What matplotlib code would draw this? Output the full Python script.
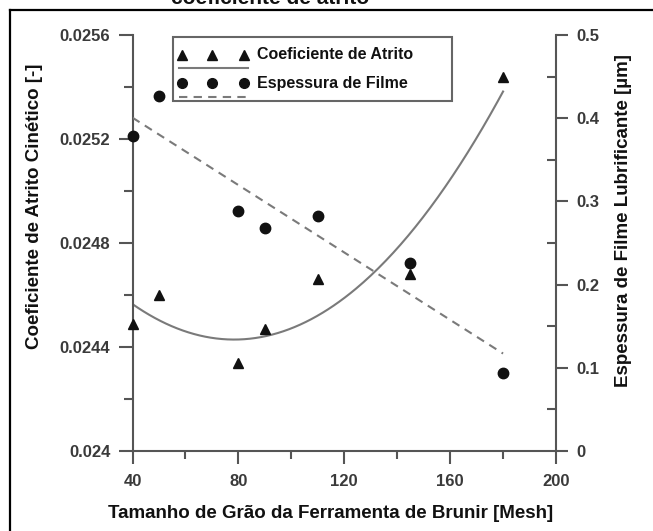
import numpy as np
import matplotlib
matplotlib.use("Agg")
import matplotlib.pyplot as plt
from matplotlib.ticker import MultipleLocator, FuncFormatter
from matplotlib.lines import Line2D
from matplotlib.patches import Rectangle

# ---- data ------------------------------------------------------------------
mesh = [40, 50, 80, 90, 110, 145, 180]
atrito = [0.02449, 0.02460, 0.02434, 0.02447, 0.02466, 0.02468, 0.02544]
filme = [0.379, 0.427, 0.288, 0.268, 0.282, 0.226, 0.094]

lbl_atrito = "Coeficiente de Atrito"
lbl_filme = "Espessura de Filme"
xlabel = "Tamanho de Grão da Ferramenta de Brunir [Mesh]"
ylabel_l = "Coeficiente de Atrito Cinético [-]"
ylabel_r = "Espessura de Filme Lubrificante [µm]"
title = "coeficiente de atrito"

# ---- style ------------------------------------------------------------------
AXIS = "#555555"
TICKLBL = "#3a3a3a"
FIT = "#7a7a7a"
W, H = 653, 531

plt.rcParams.update({
    "font.family": ["Liberation Sans", "DejaVu Sans"],
    "font.weight": "bold",
})

fig = plt.figure(figsize=(W / 100, H / 100), dpi=100)
ax = fig.add_axes([132.5 / W, 80 / H, 423.5 / W, 416 / H])
ax2 = ax.twinx()

# fitted curves (quadratic for friction, linear for film)
xs = np.linspace(min(mesh), max(mesh), 200)
ax.plot(xs, np.polyval(np.polyfit(mesh, atrito, 2), xs), color=FIT, lw=1.5, zorder=2)
ax2.plot(xs, np.polyval(np.polyfit(mesh, filme, 1), xs), color=FIT, lw=1.5,
         ls=(0, (4, 3)), zorder=2)

ax.plot(mesh, atrito, ls="none", marker="^", ms=7.5, color="#111111",
        clip_on=False, zorder=4)
ax2.plot(mesh, filme, ls="none", marker="o", ms=7.5, color="#111111",
         clip_on=False, zorder=4)

# ---- axes -------------------------------------------------------------------
ax.set_xlim(40, 200)
ax.set_ylim(0.024, 0.0256)
ax2.set_ylim(0, 0.5)
ax.xaxis.set_major_locator(MultipleLocator(40))
ax.xaxis.set_minor_locator(MultipleLocator(20))
ax.yaxis.set_major_locator(MultipleLocator(0.0004))
ax.yaxis.set_minor_locator(MultipleLocator(0.0002))
ax2.yaxis.set_major_locator(MultipleLocator(0.1))
ax2.yaxis.set_minor_locator(MultipleLocator(0.05))
fmt = FuncFormatter(lambda v, _: f"{v:g}")
ax.yaxis.set_major_formatter(fmt)
ax2.yaxis.set_major_formatter(fmt)

for s in ("top", "right"):
    ax.spines[s].set_visible(False)
for s in ("top", "left", "bottom"):
    ax2.spines[s].set_visible(False)
for s in ("left", "bottom"):
    ax.spines[s].set_color(AXIS)
    ax.spines[s].set_linewidth(1.5)
ax2.spines["right"].set_color(AXIS)
ax2.spines["right"].set_linewidth(1.5)

common = dict(width=1.5, color=AXIS, labelsize=12, labelcolor=TICKLBL)
ax.tick_params(axis="x", which="major", direction="out", length=9.5, pad=7, **common)
ax.tick_params(axis="x", which="minor", direction="out", length=6, width=1.5, color=AXIS)
ax.tick_params(axis="y", which="major", direction="out", length=10, pad=6, **common)
ax.tick_params(axis="y", which="minor", direction="out", length=6.5, width=1.5, color=AXIS)
ax2.tick_params(axis="y", which="major", direction="out", length=8.5, pad=6, **common)
ax2.tick_params(axis="y", which="minor", direction="in", length=6.5, width=1.5, color=AXIS)

# ---- labels -----------------------------------------------------------------
fig.text(331 / W, 1 - 513 / H, xlabel, ha="center", va="center", fontsize=13.5,
         weight="bold", color="#111111")
fig.text(35 / W, 1 - 206 / H, ylabel_l, ha="center", va="center", rotation=90,
         fontsize=13.5, weight="bold", color="#111111")
fig.text(624 / W, 1 - 221 / H, ylabel_r, ha="center", va="center", rotation=90,
         fontsize=13.5, weight="bold", color="#111111")
fig.text(270 / W, 1 - 4 / H, title, ha="center", va="baseline", fontsize=15,
         weight="bold", color="#111111")

# ---- Origin-style legend (markers above line) ------------------------------
tr = ax2.transAxes
ax2.add_patch(Rectangle((0.0956, 0.841), 0.658, 0.154, transform=tr,
              facecolor="white", edgecolor="#666666", lw=1.5, clip_on=False, zorder=5))
lx = [0.117, 0.188, 0.263]
ax2.plot(lx, [0.952] * 3, transform=tr, ls="none", marker="^", ms=6.5,
         color="#111111", clip_on=False, zorder=6)
ax2.plot([0.110, 0.273], [0.921] * 2, transform=tr, color=FIT, lw=1.5,
         clip_on=False, zorder=6)
ax2.plot(lx, [0.884] * 3, transform=tr, ls="none", marker="o", ms=7,
         color="#111111", clip_on=False, zorder=6)
ax2.plot([0.110, 0.273], [0.852] * 2, transform=tr, color=FIT, lw=1.5,
         ls=(0, (4, 3)), clip_on=False, zorder=6)
ax2.text(0.294, 0.952, lbl_atrito, transform=tr, va="center", fontsize=11.5,
         weight="bold", color="#111111", zorder=7)
ax2.text(0.294, 0.884, lbl_filme, transform=tr, va="center", fontsize=11.5,
         weight="bold", color="#111111", zorder=7)

# ---- outer frame (left and top edges only visible) --------------------------
fig.add_artist(Line2D([10 / W, 10 / W], [0, 1 - 10 / H], transform=fig.transFigure,
                      color="black", lw=1.6))
fig.add_artist(Line2D([10 / W, 1], [1 - 10 / H, 1 - 10 / H], transform=fig.transFigure,
                      color="black", lw=1.6))

fig.savefig("out.png", dpi=100, facecolor="white")
